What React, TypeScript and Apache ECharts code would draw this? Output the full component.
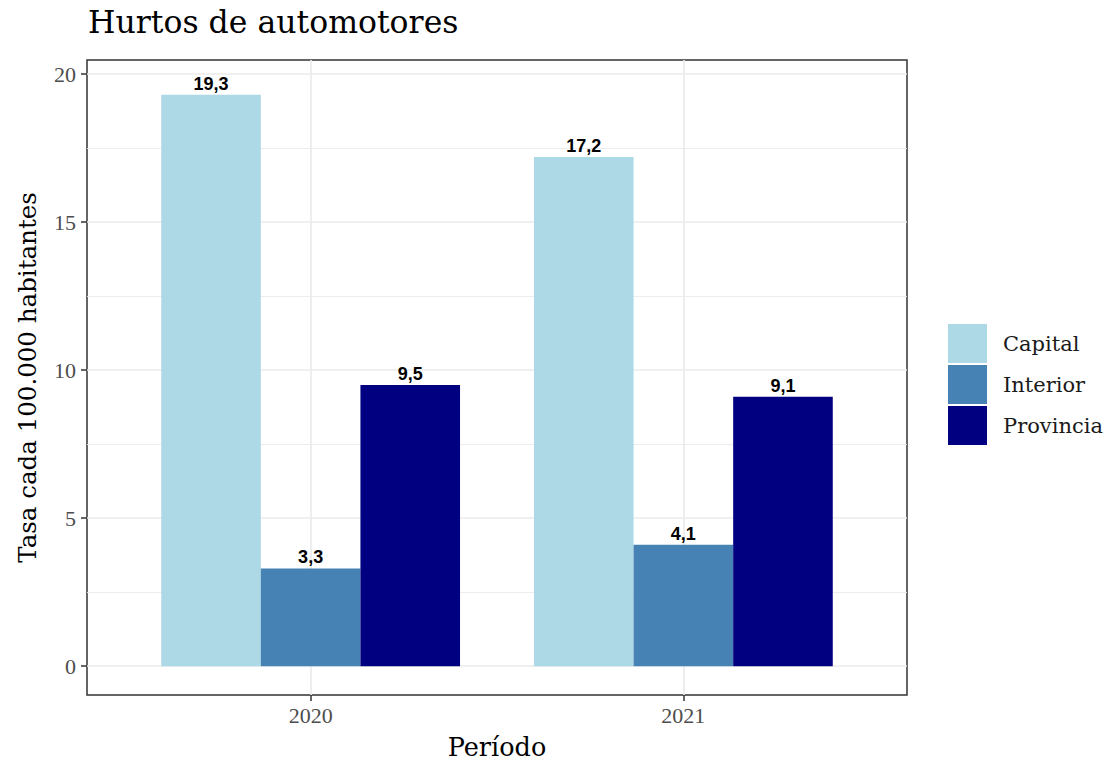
import React, { useEffect, useRef } from "react";
import * as echarts from "echarts";

const years = ["2020", "2021"];
const capital = [19.3, 17.2];
const interior = [3.3, 4.1];
const provincia = [9.5, 9.1];
const yMajor = [0, 5, 10, 15, 20];
const yMinor = [2.5, 7.5, 12.5, 17.5];
const seriesNames = ["Capital", "Interior", "Provincia"];
const colors = ["#ADD8E6", "#4682B4", "#000080"];

const Y_MIN = -0.975;
const Y_MAX = 20.475;
const SERIF = "DejaVu Serif";
const NUM = "Liberation Serif";

export default function App() {
  const ref = useRef<HTMLDivElement>(null);
  useEffect(() => {
    document.body.style.margin = "0";
    const chart = echarts.init(ref.current!, null, { renderer: "svg" });
    const xPos = years.map((_, i) => i + 1);

    const labelFmt = (p: any) => String(p.value[1]).replace(".", ",");
    const barSeries = [capital, interior, provincia].map((d, i) => ({
      name: seriesNames[i],
      type: "bar",
      data: d.map((v, j) => [xPos[j], v]),
      barWidth: 99.6,
      barGap: "0%",
      itemStyle: { color: colors[i] },
      z: 3,
      label: {
        show: true,
        position: "top",
        distance: 2,
        formatter: labelFmt,
        fontFamily: "Liberation Sans",
        fontWeight: "bold",
        fontSize: 18,
        color: "#000",
      },
      emphasis: { disabled: true },
    }));

    const gridLines = [
      ...yMajor.map((v) => ({ yAxis: v, lineStyle: { color: "#EBEBEB", width: 1.7, type: "solid" } })),
      ...yMinor.map((v) => ({ yAxis: v, lineStyle: { color: "#EBEBEB", width: 0.9, type: "solid" } })),
      ...xPos.map((v) => ({ xAxis: v, lineStyle: { color: "#EBEBEB", width: 1.7, type: "solid" } })),
    ];

    chart.setOption({
      animation: false,
      title: {
        text: "Hurtos de automotores",
        left: 88,
        top: 6,
        padding: 0,
        textStyle: { fontFamily: SERIF, fontSize: 31.5, fontWeight: "normal", color: "#000" },
      },
      legend: {
        data: seriesNames,
        orient: "vertical",
        left: 948,
        top: 324,
        padding: 0,
        icon: "rect",
        itemWidth: 39,
        itemHeight: 39,
        itemGap: 2,
        textStyle: { fontFamily: SERIF, fontSize: 21, color: "#1A1A1A", padding: [0, 0, 0, 11] },
      },
      grid: {
        left: 87,
        top: 60,
        width: 820,
        height: 635,
        containLabel: false,
        outerBoundsMode: "none",
        show: true,
        borderColor: "#333333",
        borderWidth: 1.5,
        backgroundColor: "transparent",
      },
      xAxis: {
        type: "value",
        min: 0.4,
        max: 2.6,
        axisLine: { show: false, onZero: false },
        axisTick: { show: true, customValues: xPos, length: 6, lineStyle: { color: "#333333", width: 1.5 } },
        axisLabel: {
          customValues: xPos,
          formatter: (v: number) => years[Math.round(v) - 1] ?? "",
          fontFamily: NUM,
          fontSize: 22,
          color: "#4D4D4D",
          margin: 9,
        },
        splitLine: { show: false },
        name: "Período",
        nameLocation: "middle",
        nameGap: 39,
        nameTextStyle: { fontFamily: SERIF, fontSize: 25.5, color: "#000" },
      },
      yAxis: {
        type: "value",
        min: Y_MIN,
        max: Y_MAX,
        axisLine: { show: false, onZero: false },
        axisTick: { show: true, customValues: yMajor, length: 6, lineStyle: { color: "#333333", width: 1.5 } },
        axisLabel: { customValues: yMajor, fontFamily: NUM, fontSize: 22, color: "#4D4D4D", margin: 11 },
        splitLine: { show: false },
        name: "Tasa cada 100.000 habitantes",
        nameLocation: "middle",
        nameRotate: 90,
        nameGap: 47,
        nameTextStyle: { fontFamily: SERIF, fontSize: 24.5, color: "#000" },
      },
      series: [
        {
          type: "line",
          data: [],
          silent: true,
          z: 1,
          markLine: {
            z: 1,
            silent: true,
            symbol: ["none", "none"],
            label: { show: false },
            emphasis: { disabled: true },
            data: gridLines,
          },
        },
        ...barSeries,
      ],
    });
    return () => chart.dispose();
  }, []);
  return <div ref={ref} style={{ width: 1108, height: 762 }} />;
}
